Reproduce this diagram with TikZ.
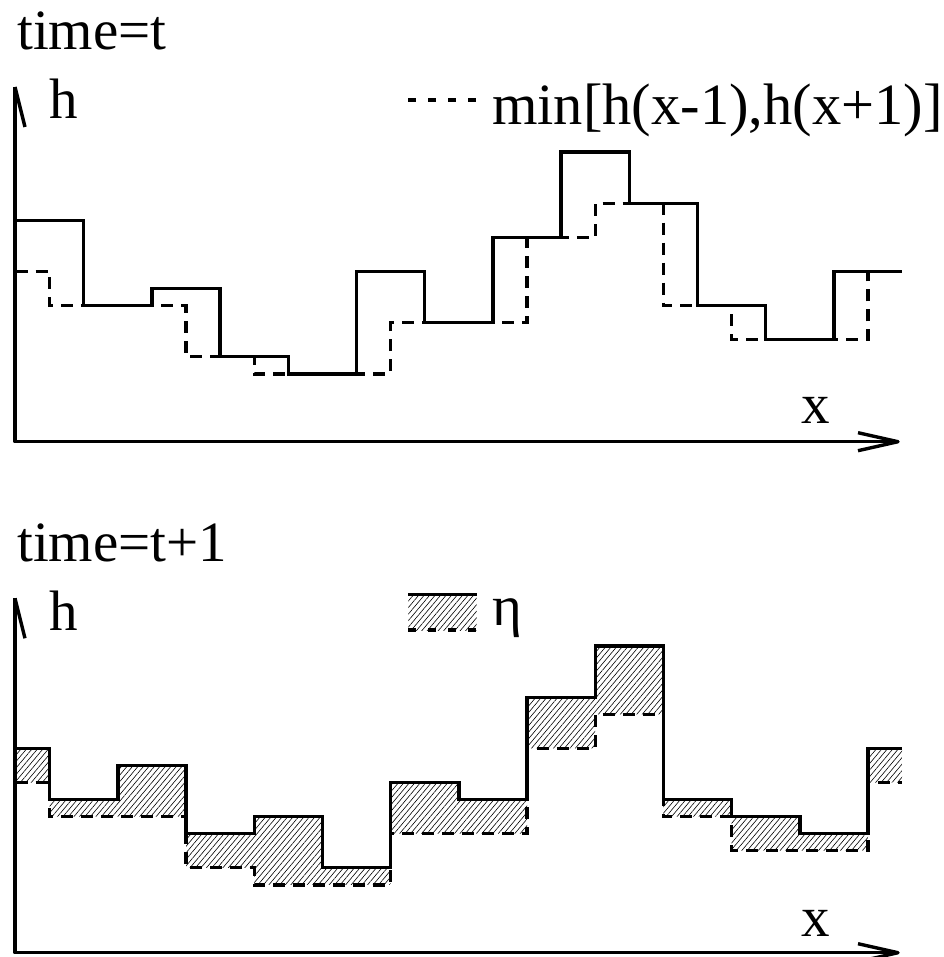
\documentclass[tikz,border=0pt]{standalone}
\usepackage{fontspec}
\setmainfont{Liberation Serif}
\usetikzlibrary{patterns.meta}
\begin{document}
\begin{tikzpicture}[x=1pt,y=-1pt,
  axis/.style={line width=3.4pt, line join=round, line cap=butt},
  solidline/.style={line width=3.4pt, line join=miter, line cap=butt},
  dashline/.style={line width=3.4pt, dash pattern=on 12pt off 8pt},
  legdash/.style={line width=3.4pt, dash pattern=on 8pt off 12pt},
  hatch/.style={pattern={Lines[angle=50,distance=4.2pt,line width=0.6pt]}, pattern color=black},
  lab/.style={anchor=base west, inner sep=0pt, font=\fontsize{57}{60}\selectfont}]
\useasboundingbox (0,0) rectangle (943,957);
\clip (0,0) rectangle (943,957);

% ---------- top panel ----------
\node[lab] (time1) at (17,50) {time=t};
\node[lab] (h1) at (49.5,119) {h};
\node[lab] (x1) at (801,423) {x};
\node[lab, font=\fontsize{58.5}{60}\selectfont] (leg1) at (492,125) {min[h(x-1),h(x+1)]};
\coordinate (ld1a) at (408,100);
\coordinate (ld1b) at (477,100);
\draw[legdash] (ld1a) -- (ld1b);

\coordinate (o1) at (15,441.7);
\coordinate (ytip1) at (15,87);
\coordinate (yb1) at (25,127);
\coordinate (xtip1) at (898,441.7);
\coordinate (xb1a) at (858,432.7);
\coordinate (xb1b) at (858,450.7);
\draw[axis] (ytip1) -- (o1) -- (xtip1);
\draw[axis] (yb1) -- (ytip1);
\draw[axis] (xb1a) -- (xtip1) -- (xb1b);

\begin{scope}[shift={(15.5,442)}, x=34.1pt, y=17.05pt]
  \draw[solidline] (0,13)--(2,13)--(2,8)--(4,8)--(4,9)--(6,9)--(6,5)--(8,5)--(8,4)--(10,4)--(10,10)--(12,10)--(12,7)--(14,7)--(14,12)--(16,12)--(16,17)--(18,17)--(18,14)--(20,14)--(20,8)--(22,8)--(22,6)--(24,6)--(24,10)--(26,10);
  \draw[dashline] (0,10)--(1,10)--(1,8)--(5,8)--(5,5)--(7,5)--(7,4)--(11,4)--(11,7)--(15,7)--(15,12)--(17,12)--(17,14)--(19,14)--(19,8)--(21,8)--(21,6)--(25,6)--(25,10)--(26,10);
\end{scope}

% ---------- bottom panel ----------
\node[lab] (time2) at (17,561.7) {time=t+1};
\node[lab] (h2) at (49.5,630) {h};
\node[lab] (x2) at (801,936) {x};
\node[lab] (leg2) at (492,625) {η};
\coordinate (lb2a) at (408.3,594.3);
\coordinate (lb2b) at (476.7,630);
\fill[hatch] (lb2a) rectangle (lb2b);
\draw[solidline] (lb2a) -- (lb2a -| lb2b);
\draw[legdash] (lb2a |- lb2b) -- (lb2b);

\coordinate (o2) at (15,952.7);
\coordinate (ytip2) at (15,598.3);
\coordinate (yb2) at (25,638.3);
\coordinate (xtip2) at (898,952.7);
\coordinate (xb2a) at (858,943.7);
\coordinate (xb2b) at (858,961.7);
\draw[axis] (ytip2) -- (o2) -- (xtip2);
\draw[axis] (yb2) -- (ytip2);
\draw[axis] (xb2a) -- (xtip2) -- (xb2b);

\begin{scope}[shift={(15.5,953)}, x=34.1pt, y=17.05pt]
  \fill[hatch] (0,12)--(1,12)--(1,9)--(3,9)--(3,11)--(5,11)--(5,7)--(7,7)--(7,8)--(9,8)--(9,5)--(11,5)--(11,10)--(13,10)--(13,9)--(15,9)--(15,15)--(17,15)--(17,18)--(19,18)--(19,9)--(21,9)--(21,8)--(23,8)--(23,7)--(25,7)--(25,12)--(26,12)
    --(26,10)--(25,10)--(25,6)--(21,6)--(21,8)--(19,8)--(19,14)--(17,14)--(17,12)--(15,12)--(15,7)--(11,7)--(11,4)--(7,4)--(7,5)--(5,5)--(5,8)--(1,8)--(1,10)--(0,10)--cycle;
  \draw[solidline] (0,12)--(1,12)--(1,9)--(3,9)--(3,11)--(5,11)--(5,7)--(7,7)--(7,8)--(9,8)--(9,5)--(11,5)--(11,10)--(13,10)--(13,9)--(15,9)--(15,15)--(17,15)--(17,18)--(19,18)--(19,9)--(21,9)--(21,8)--(23,8)--(23,7)--(25,7)--(25,12)--(26,12);
  \draw[dashline] (0,10)--(1,10)--(1,8)--(5,8)--(5,5)--(7,5)--(7,4)--(11,4)--(11,7)--(15,7)--(15,12)--(17,12)--(17,14)--(19,14)--(19,8)--(21,8)--(21,6)--(25,6)--(25,10)--(26,10);
\end{scope}
\end{tikzpicture}
\end{document}
